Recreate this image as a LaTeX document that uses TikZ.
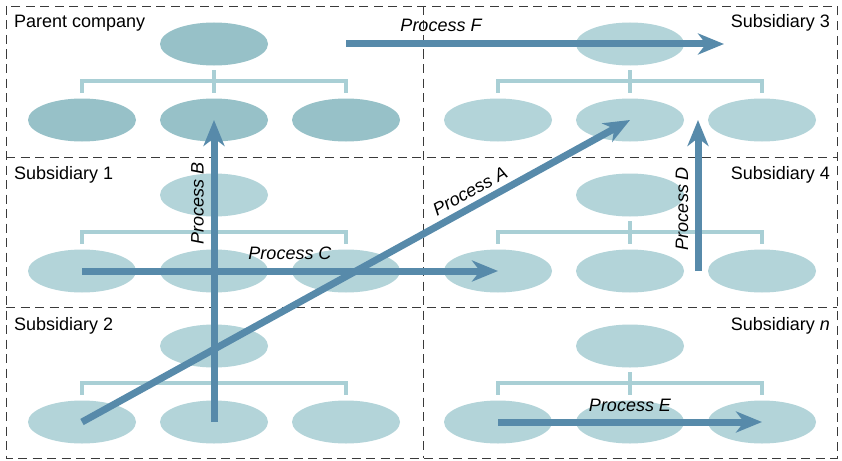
\documentclass[tikz,border=0pt]{standalone}
\usepackage{fontspec}
\setmainfont{Liberation Sans}
\usetikzlibrary{arrows.meta,calc,shapes.geometric}
\definecolor{parentfill}{HTML}{97C1C8}
\definecolor{subfill}{HTML}{B3D4D9}
\definecolor{treeline}{HTML}{A9CFD5}
\definecolor{arrowcol}{HTML}{578AAA}
\definecolor{framecol}{HTML}{3A3A3A}
\begin{document}
\begin{tikzpicture}[x=1pt,y=-1pt,
  org/.style={ellipse, minimum width=108pt, minimum height=43pt, inner sep=0pt, draw=none},
  tree/.style={draw=treeline, line width=3.5pt},
  frame/.style={draw=framecol, line width=0.9pt, dash pattern=on 9pt off 5.5pt},
  proc/.style={draw=arrowcol, line width=7pt, -{Stealth[length=26pt,width=21pt,inset=8pt]}},
  lbl/.style={font=\fontsize{18}{21}\selectfont, inner sep=0pt},
  plbl/.style={font=\fontsize{18}{21}\selectfont\itshape, inner sep=0pt}]
\useasboundingbox (0,0) rectangle (842,460);
\fill[white] (0,0) rectangle (842,460);

% frame
\draw[frame] (6,6) rectangle (837,458);
\draw[frame] (6,157) -- (837,157);
\draw[frame] (6,307) -- (837,307);
\draw[frame] (423,6) -- (423,458);

% organisation charts
\foreach \r/\dy/\c/\dx/\col in {0/0/0/0/parentfill, 0/0/1/416/subfill,
    1/151/0/0/subfill, 1/151/1/416/subfill, 2/302/0/0/subfill, 2/302/1/416/subfill} {
  \node[org, fill=\col] (t\r\c) at (214+\dx, 44+\dy) {};
  \node[org, fill=\col] (a\r\c) at (82+\dx, 120+\dy) {};
  \node[org, fill=\col] (b\r\c) at (214+\dx, 120+\dy) {};
  \node[org, fill=\col] (d\r\c) at (346+\dx, 120+\dy) {};
  \draw[tree] ($(t\r\c.south)+(0,4.5)$) -- ($(b\r\c.north)+(0,-5.5)$);
  \draw[tree] ($(a\r\c.north)+(0,-5.5)$) |- ($(d\r\c.north)+(0,-17.5)$) -- ($(d\r\c.north)+(0,-5.5)$);
}

% panel titles
\node[lbl, anchor=base west] (lp) at (14,28) {Parent company};
\node[lbl, anchor=base west] (l1) at (14,179) {Subsidiary 1};
\node[lbl, anchor=base west] (l2) at (14,330) {Subsidiary 2};
\node[lbl, anchor=base east] (l3) at (830,28) {Subsidiary 3};
\node[lbl, anchor=base east] (l4) at (830,179) {Subsidiary 4};
\node[lbl, anchor=base east] (ln) at (830,330) {Subsidiary \textit{n}};

% process arrows
\coordinate (fstart) at (d00.center |- t00.center);
\coordinate (fend) at (724,44);
\coordinate (dstart) at (698,271);
\coordinate (dend) at (698,120);
\draw[proc] (b20.center) -- (b00.center);
\draw[proc] (a10.center) -- (a11.center);
\draw[proc] (a20.center) -- (b01.center);
\draw[proc] (dstart) -- (dend);
\draw[proc] (a21.center) -- (d21.center);
\draw[proc] (fstart) -- (fend);

% process labels
\node[plbl, anchor=base] (pf) at (441,32) {Process F};
\node[plbl, anchor=base] (pc) at (290,259) {Process C};
\node[plbl, anchor=base] (pe) at (630,411.5) {Process E};
\node[plbl, anchor=base, rotate=90] (pb) at (203.5,203) {Process B};
\node[plbl, anchor=base, rotate=90] (pd) at (688,208.5) {Process D};
\node[plbl, rotate=28.8] (pa) at (470,191) {Process A};
\end{tikzpicture}
\end{document}
